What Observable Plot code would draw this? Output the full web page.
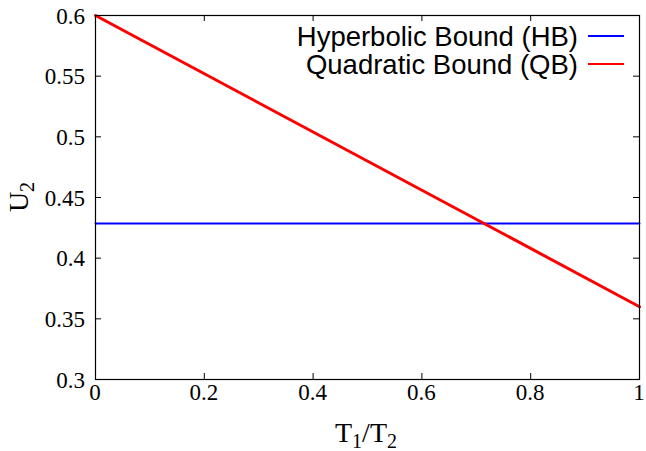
<!DOCTYPE html>
<html>
<head>
<meta charset="utf-8">
<script src="https://cdn.jsdelivr.net/npm/d3@7"></script>
<script src="https://cdn.jsdelivr.net/npm/@observablehq/plot@0.6"></script>
<style>
  html, body { margin: 0; padding: 0; background: #fff; }
  svg { display: block; }
</style>
</head>
<body>
<div id="chart"></div>
<script>
const xTicks = [0, 0.2, 0.4, 0.6, 0.8, 1];
const yTicks = [0.3, 0.35, 0.4, 0.45, 0.5, 0.55, 0.6];
const xTickLabels = ["0", "0.2", "0.4", "0.6", "0.8", "1"];
const yTickLabels = ["0.3", "0.35", "0.4", "0.45", "0.5", "0.55", "0.6"];
const seriesNames = ["Hyperbolic Bound (HB)", "Quadratic Bound (QB)"];
const seriesColors = ["#0000ff", "#ff0000"];
const ratio = [0, 1];            // T1/T2
const hbValues = [0.4286, 0.4286];
const qbValues = [0.6, 0.36];

const W = 646, H = 451;
const mL = 95, mR = 7, mT = 15, mB = 72;
const pw = W - mL - mR, ph = H - mT - mB;
const tickLen = 6;

const hb = ratio.map((r, i) => ({x: r, y: hbValues[i]}));
const qb = ratio.map((r, i) => ({x: r, y: qbValues[i]}));

const serif = "'Liberation Serif', 'Times New Roman', serif";
const sans = "'Liberation Sans', Arial, sans-serif";

const chart = Plot.plot({
  width: W, height: H,
  marginLeft: mL, marginRight: mR, marginTop: mT, marginBottom: mB,
  style: {background: "#fff"},
  x: {domain: [0, 1], axis: null},
  y: {domain: [0.3, 0.6], axis: null},
  marks: [
    Plot.tickY(yTicks, {y: d => d, insetRight: pw - tickLen, stroke: "#000", strokeWidth: 1}),
    Plot.tickY(yTicks, {y: d => d, insetLeft: pw - tickLen, stroke: "#000", strokeWidth: 1}),
    Plot.tickX(xTicks, {x: d => d, insetTop: ph - tickLen, stroke: "#000", strokeWidth: 1}),
    Plot.tickX(xTicks, {x: d => d, insetBottom: ph - tickLen, stroke: "#000", strokeWidth: 1}),
    Plot.line(hb, {x: "x", y: "y", stroke: seriesColors[0], strokeWidth: 2}),
    Plot.line(qb, {x: "x", y: "y", stroke: seriesColors[1], strokeWidth: 3}),
    Plot.frame({stroke: "#000", strokeWidth: 1.2})
  ]
});

const svg = d3.select(chart);
const xs = chart.scale("x"), ys = chart.scale("y");

// Tick labels (serif), positioned through Plot's scales
const tl = svg.append("g").attr("aria-label", "tick labels");
yTicks.forEach((v, i) => {
  tl.append("text")
    .attr("x", mL - 10).attr("y", ys.apply(v) + 8.5)
    .attr("text-anchor", "end")
    .style("font-family", serif).style("font-size", "23px").attr("fill", "#000")
    .text(yTickLabels[i]);
});
xTicks.forEach((v, i) => {
  tl.append("text")
    .attr("x", xs.apply(v)).attr("y", mT + ph + 21)
    .attr("text-anchor", "middle")
    .style("font-family", serif).style("font-size", "23px").attr("fill", "#000")
    .text(xTickLabels[i]);
});

// Legend
const legendRight = 578, sampleX1 = 588, sampleX2 = 624;
const rowY = [36, 64];
seriesNames.forEach((name, i) => {
  svg.append("text")
    .attr("x", legendRight).attr("y", rowY[i])
    .attr("text-anchor", "end").attr("dominant-baseline", "central")
    .style("font-family", sans).style("font-size", "27.5px").attr("fill", "#000")
    .text(name);
  svg.append("line")
    .attr("x1", sampleX1).attr("x2", sampleX2)
    .attr("y1", rowY[i]).attr("y2", rowY[i])
    .attr("stroke", seriesColors[i]).attr("stroke-width", 2);
});

// X label: T1/T2
const xl = svg.append("text")
  .attr("x", 366).attr("y", 442)
  .attr("text-anchor", "middle")
  .style("font-family", serif).style("font-size", "28px").attr("fill", "#000");
xl.append("tspan").text("T");
xl.append("tspan").style("font-size", "20px").attr("dy", 6).text("1");
xl.append("tspan").attr("dy", -6).text("/T");
xl.append("tspan").style("font-size", "20px").attr("dy", 6).text("2");

// Y label: U2
const yl = svg.append("text")
  .attr("transform", "translate(28,197) rotate(-90)")
  .attr("text-anchor", "middle")
  .style("font-family", serif).style("font-size", "28px").attr("fill", "#000");
yl.append("tspan").text("U");
yl.append("tspan").style("font-size", "20px").attr("dy", 6).text("2");

document.getElementById("chart").appendChild(chart);
</script>
</body>
</html>
